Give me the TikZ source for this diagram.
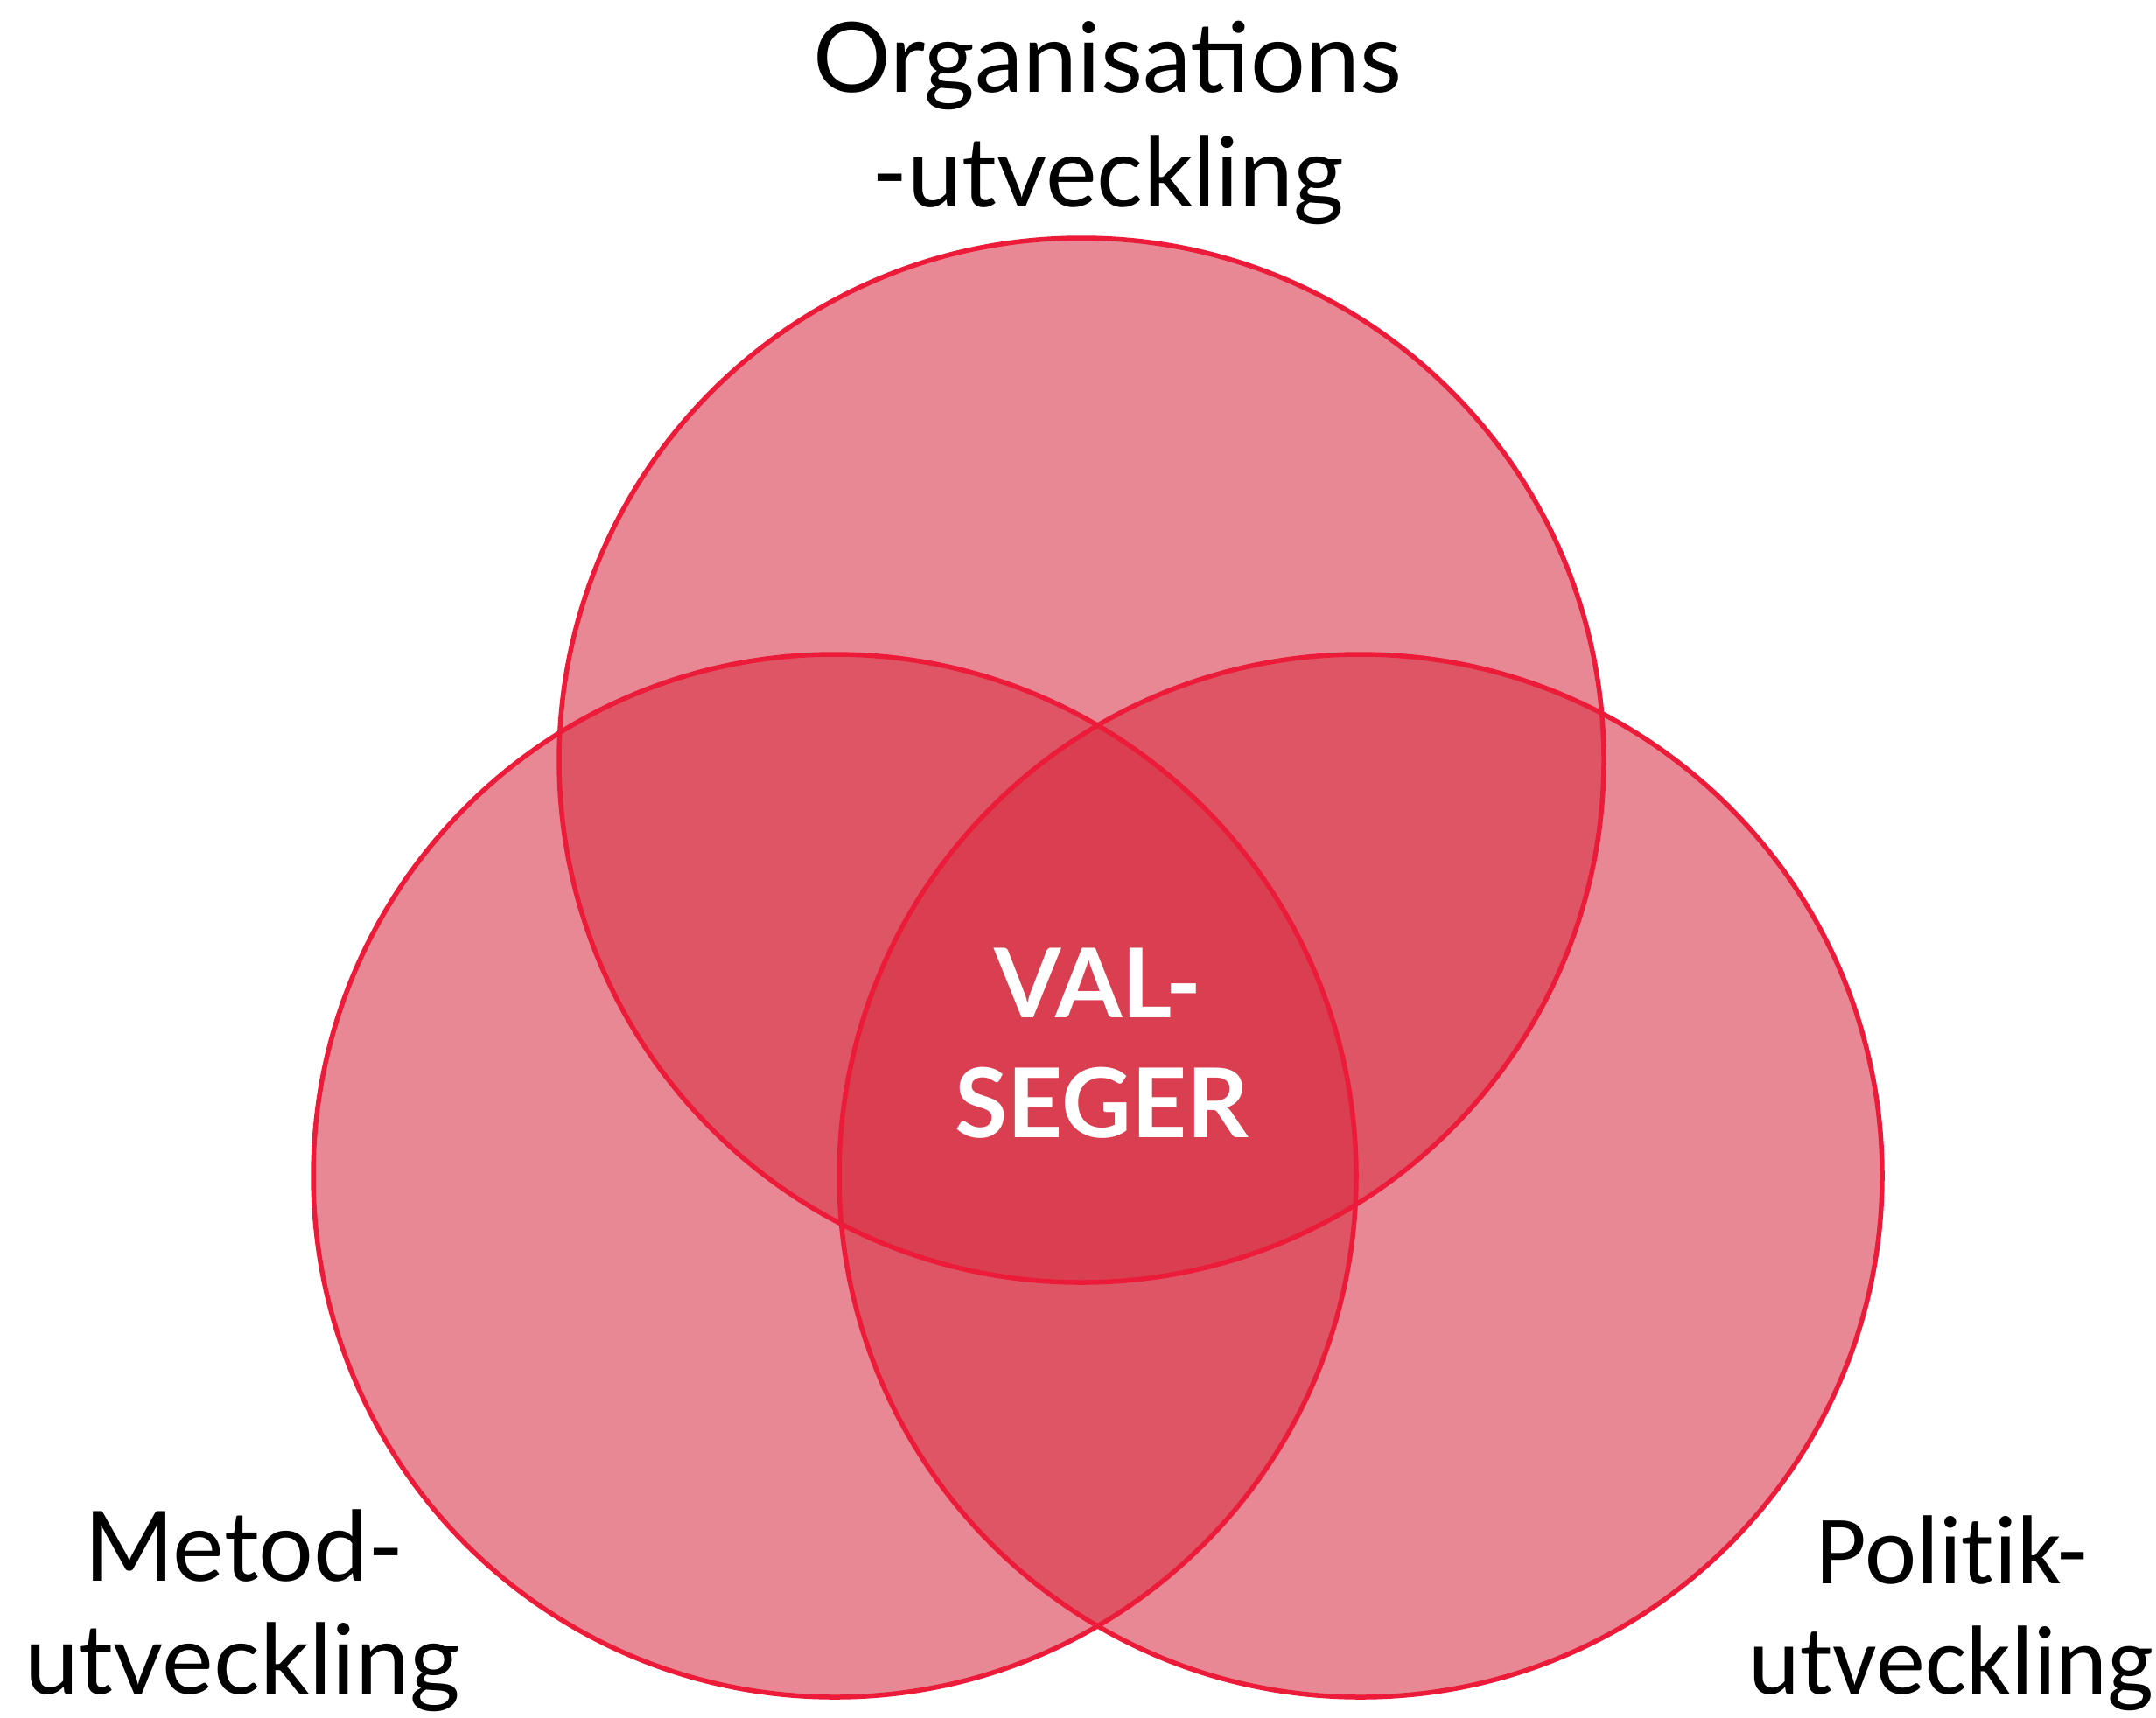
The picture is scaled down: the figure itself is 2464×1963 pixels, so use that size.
\documentclass[tikz,border=0pt]{standalone}
\usepackage{fontspec}
\setmainfont{Lato}
\newfontfamily\calib[Ligatures=NoCommon,RawFeature={-liga;-clig;-calt;-dlig}]{Carlito}
\definecolor{vfill}{RGB}{216,47,67}
\definecolor{vline}{RGB}{237,27,58}
\begin{document}
\begin{tikzpicture}[x=1pt,y=-1pt,
  venn/.style={fill=vfill,fill opacity=0.57,draw=none},
  vring/.style={draw=vline,line width=5.5pt},
  lbl/.style={font=\fontsize{111}{131}\selectfont,align=center,inner sep=0pt,anchor=base},
  plbl/.style={font=\calib\fontsize{112}{126}\selectfont,inner sep=0pt,anchor=base},
  ctr/.style={font=\bfseries\fontsize{110}{137}\selectfont,text=white,inner sep=0pt,anchor=base}]
\useasboundingbox (0,0) rectangle (2464,1963);
\fill[white] (0,0) rectangle (2464,1963);
\coordinate (ct) at (1236,869);
\coordinate (cl) at (954,1344);
\coordinate (cr) at (1555,1344);
\fill[venn] (cl) circle (596);
\fill[venn] (cr) circle (596);
\fill[venn] (ct) circle (597);
\draw[vring] (cl) circle (596);
\draw[vring] (cr) circle (596);
\draw[vring] (ct) circle (597);
\node[lbl] (org1) at (1266,105) {Organisations};
\node[lbl] (org2) at (1266,236) {-utveckling};
\node[lbl] (met1) at (279,1807) {Metod-};
\node[lbl] (met2) at (277,1936) {utveckling};
\node[plbl] (pol1) at (2231,1810) {Polit\kern0pt ik-};
\node[plbl] (pol2) at (2230,1936) {utveckling};
\node[ctr] (val1) at (1255,1163) {VAL-};
\node[ctr] (val2) at (1259,1300) {SEGER};
\end{tikzpicture}
\end{document}
